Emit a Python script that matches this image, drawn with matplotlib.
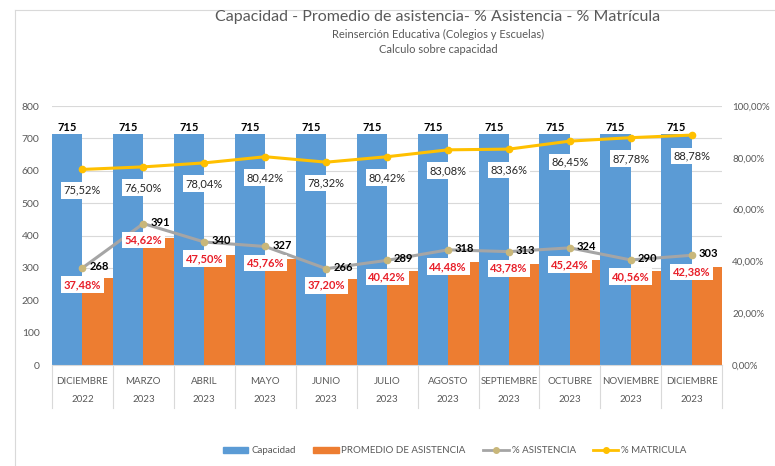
import numpy as np
import matplotlib.pyplot as plt
from matplotlib.lines import Line2D
from matplotlib.patches import Patch

plt.rcParams['font.family'] = ['Lato', 'DejaVu Sans']

# data
meses = ["DICIEMBRE", "MARZO", "ABRIL", "MAYO", "JUNIO", "JULIO", "AGOSTO",
         "SEPTIEMBRE", "OCTUBRE", "NOVIEMBRE", "DICIEMBRE"]
anios = ["2022", "2023", "2023", "2023", "2023", "2023", "2023",
         "2023", "2023", "2023", "2023"]
capacidad = [715, 715, 715, 715, 715, 715, 715, 715, 715, 715, 715]
promedio = [268, 391, 340, 327, 266, 289, 318, 313, 324, 290, 303]
pct_asistencia = [37.48, 54.62, 47.50, 45.76, 37.20, 40.42, 44.48, 43.78, 45.24, 40.56, 42.38]
pct_matricula = [75.52, 76.50, 78.04, 80.42, 78.32, 80.42, 83.08, 83.36, 86.45, 87.78, 88.78]

BLUE = "#5B9BD5"
ORANGE = "#ED7D31"
GRAY = "#A5A5A5"
GOLD = "#FFC000"
TXT = "#595959"

def coma(v, dec=2):
    return f"{v:.{dec}f}".replace(".", ",")

fig = plt.figure(figsize=(7.75, 4.66), dpi=100)
ax = fig.add_axes([0.067, 0.2167, 0.865, 0.5558])
ax2 = ax.twinx()

x = np.arange(len(meses))
w = 0.5
ax.bar(x - w / 2, capacidad, w, color=BLUE, zorder=2)
ax.bar(x + w / 2, promedio, w, color=ORANGE, zorder=2)

ax.set_ylim(0, 800)
ax.set_yticks(range(0, 801, 100))
ax.set_xlim(-0.5, len(meses) - 0.5)
ax.grid(axis="y", color="#D9D9D9", lw=0.8, zorder=0)
ax.set_xticks([])
ax.tick_params(axis="y", length=0, labelsize=7.5, labelcolor=TXT, pad=9)
for s in ["top", "left", "right"]:
    ax.spines[s].set_visible(False)
    ax2.spines[s].set_visible(False)
ax.spines["bottom"].set_color("#D9D9D9")
ax2.spines["bottom"].set_visible(False)

ax2.set_ylim(0, 100)
ax2.set_yticks(range(0, 101, 20))
ax2.set_yticklabels([coma(v) + "%" for v in range(0, 101, 20)])
ax2.tick_params(axis="y", length=0, labelsize=7, labelcolor=TXT, pad=7)

ax2.plot(x, pct_asistencia, color=GRAY, lw=2.2, marker="o", ms=4.5,
         mfc="#C9B77A", mec="#C9B77A", zorder=3)
ax2.plot(x, pct_matricula, color=GOLD, lw=2.2, marker="o", ms=4.5, zorder=3)

box = dict(boxstyle="square,pad=0.25", fc="white", ec="none")
for i in x:
    ax.text(i - w / 2, capacidad[i] + 20, str(capacidad[i]), ha="center", va="center",
            fontsize=8, fontweight="bold", color="black")
    ax2.annotate(coma(pct_matricula[i]) + "%", (i, pct_matricula[i]), xytext=(0, -15),
                 textcoords="offset points", ha="center", va="center", fontsize=8,
                 color="#262626", bbox=box, zorder=4)
    ax2.annotate(coma(pct_asistencia[i]) + "%", (i, pct_asistencia[i]), xytext=(0, -12),
                 textcoords="offset points", ha="center", va="center", fontsize=8,
                 fontweight="bold", color="#E8202A", bbox=box, zorder=4)
    ax2.annotate(str(promedio[i]), (i, pct_asistencia[i]), xytext=(5, 1),
                 textcoords="offset points", ha="left", va="center", fontsize=8,
                 fontweight="bold", color="black", zorder=4)

# two level category axis
tr = ax.get_xaxis_transform()
for i in x:
    ax.text(i, -0.062, meses[i], transform=tr, ha="center", va="center",
            fontsize=7, color=TXT)
    ax.text(i, -0.135, anios[i], transform=tr, ha="center", va="center",
            fontsize=7, color=TXT)
for k in range(len(meses) + 1):
    ax.plot([k - 0.5, k - 0.5], [0, -0.166], transform=tr, color="#D9D9D9",
            lw=0.8, clip_on=False)

fig.text(0.565, 0.963, "Capacidad - Promedio de asistencia- % Asistencia - % Matrícula",
         ha="center", va="center", fontsize=11.5, color=TXT)
fig.text(0.565, 0.925, "Reinserción Educativa (Colegios y Escuelas)",
         ha="center", va="center", fontsize=8, color=TXT)
fig.text(0.565, 0.893, "Calculo sobre capacidad",
         ha="center", va="center", fontsize=8, color=TXT)

# chart area border
fig.add_artist(Line2D([0.019, 0.019], [0, 0.979], color="#D9D9D9", lw=0.8))
fig.add_artist(Line2D([0.019, 1], [0.979, 0.979], color="#D9D9D9", lw=0.8))

handles = [Patch(color=BLUE), Patch(color=ORANGE),
           Line2D([], [], color=GRAY, lw=2, marker="o", ms=4, mfc="#C9B77A", mec="#C9B77A"),
           Line2D([], [], color=GOLD, lw=2, marker="o", ms=4)]
labels = ["Capacidad", "PROMEDIO DE ASISTENCIA", "% ASISTENCIA", "% MATRICULA"]
leg = fig.legend(handles, labels, loc="center", bbox_to_anchor=(0.587, 0.033), ncol=4,
                 frameon=False, fontsize=7, handlelength=2.6, handleheight=0.6,
                 columnspacing=1.8, handletextpad=0.3)
for t in leg.get_texts():
    t.set_color(TXT)

fig.savefig("out.png", dpi=100)
